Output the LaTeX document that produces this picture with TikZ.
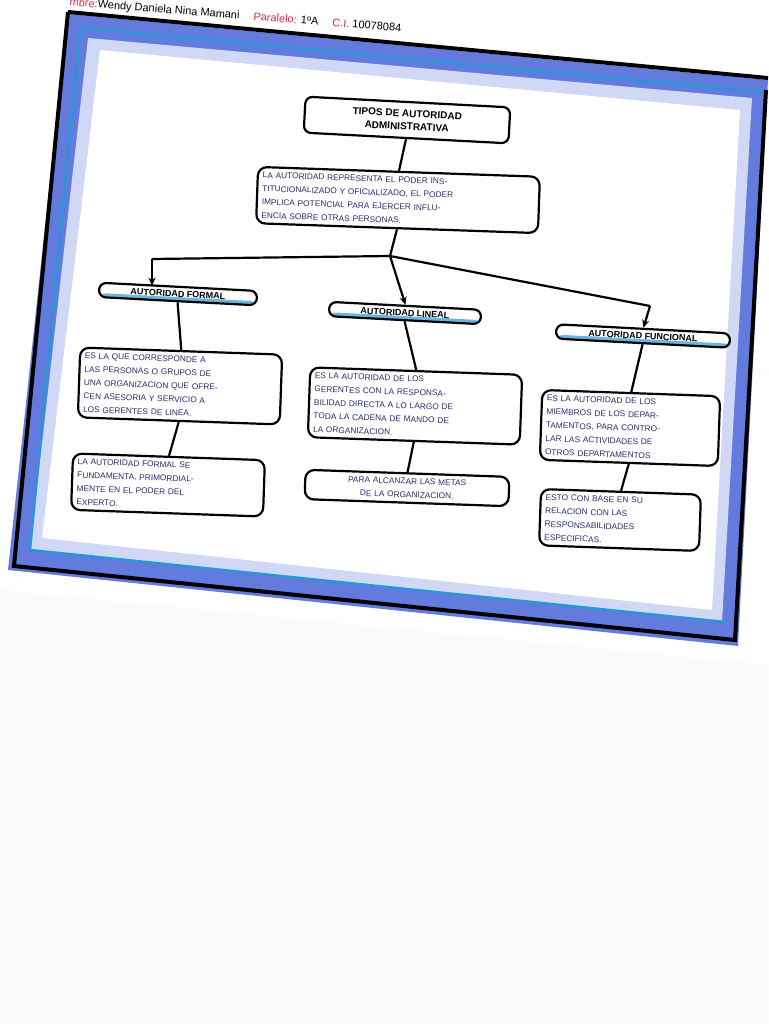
\documentclass[tikz,border=0pt]{standalone}
\usepackage{fontspec}
\setmainfont{Liberation Sans}
\usetikzlibrary{arrows.meta}
\definecolor{frameblue}{RGB}{70,100,215}
\definecolor{cyanl}{RGB}{40,150,215}
\definecolor{ink}{RGB}{40,45,110}
\definecolor{redi}{RGB}{225,40,70}
\tikzset{
  box/.style={draw=black,line width=2.2pt,rounded corners=9pt,fill=white,align=left,
    font=\fontsize{8.3}{13.5}\selectfont,text=ink,inner sep=5pt,rotate=-2},
  head/.style={draw=black,line width=2.2pt,rounded corners=7pt,fill=white,
    font=\bfseries\fontsize{9}{11}\selectfont,text=black,inner sep=4pt,rotate=-3,
    path picture={\fill[cyanl!70] (path picture bounding box.south west) rectangle ([yshift=4pt]path picture bounding box.south east);}},
  link/.style={line width=2.2pt,draw=black},
  arr/.style={link,-{Stealth[length=8pt,width=7pt]}}
}
\begin{document}
\begin{tikzpicture}[x=1pt,y=-1pt]
\useasboundingbox (0,0) rectangle (768,1024);
\fill[white] (0,0) rectangle (768,1024);
\fill[gray!4] (0,590) -- (768,665) -- (768,1024) -- (0,1024) -- cycle;
% frame
\fill[frameblue!85] (68,14) -- (768,80) -- (738,646) -- (8,570) -- cycle;
\fill[frameblue!25] (88,38) -- (752,98) -- (722,622) -- (30,550) -- cycle;
\fill[white] (100,50) -- (740,110) -- (712,610) -- (42,538) -- cycle;
\draw[line width=4pt] (68,12) -- (768,78);
\draw[line width=4pt] (68,12) -- (14,566) -- (735,640) -- (766,90);
\draw[cyanl,line width=2.5pt] (82,28) -- (762,92);
\draw[cyanl,line width=2.5pt] (80,30) -- (30,550) -- (725,622);
% header text
\node[rotate=-4.5,anchor=south west,inner sep=1pt,font=\fontsize{11}{12}\selectfont] (hdr) at (68,9)
 {\textcolor{redi}{mbre:}Wendy Daniela Nina Mamani \quad \textcolor{redi}{Paralelo:} 1ºA \quad \textcolor{redi}{C.I.} 10078084};
% nodes
\node[head,fill=white,path picture={},font=\bfseries\fontsize{10}{13}\selectfont,align=center,minimum width=205pt,minimum height=36pt] (title) at (407,120)
 {TIPOS DE AUTORIDAD\\ADMINISTRATIVA};
\node[box,text width=272pt] (def) at (398,200)
 {LA AUTORIDAD REPRESENTA EL PODER INS-\\TITUCIONALIZADO Y OFICIALIZADO, EL PODER\\IMPLICA POTENCIAL PARA EJERCER INFLU-\\ENCIA SOBRE OTRAS PERSONAS.};
\node[head,minimum width=158pt] (hf) at (178,294) {AUTORIDAD FORMAL};
\node[head,minimum width=152pt] (hl) at (405,313) {AUTORIDAD LINEAL};
\node[head,minimum width=174pt] (hn) at (643,336) {AUTORIDAD FUNCIONAL};
\node[box,text width=192pt] (f1) at (180,386)
 {ES LA QUE CORRESPONDE A\\LAS PERSONAS O GRUPOS DE\\UNA ORGANIZACION QUE OFRE-\\CEN ASESORIA Y SERVICIO A\\LOS GERENTES DE LINEA.};
\node[box,text width=202pt] (l1) at (415,406)
 {ES LA AUTORIDAD DE LOS\\GERENTES CON LA RESPONSA-\\BILIDAD DIRECTA A LO LARGO DE\\TODA LA CADENA DE MANDO DE\\LA ORGANIZACION.};
\node[box,text width=168pt] (n1) at (630,428)
 {ES LA AUTORIDAD DE LOS\\MIEMBROS DE LOS DEPAR-\\TAMENTOS, PARA CONTRO-\\LAR LAS ACTIVIDADES DE\\OTROS DEPARTAMENTOS};
\node[box,text width=182pt] (f2) at (168,485)
 {LA AUTORIDAD FORMAL SE\\FUNDAMENTA, PRIMORDIAL-\\MENTE EN EL PODER DEL\\EXPERTO.};
\node[box,text width=194pt,align=center] (l2) at (407,488)
 {PARA ALCANZAR LAS METAS\\DE LA ORGANIZACION.};
\node[box,text width=150pt] (n2) at (620,520)
 {ESTO CON BASE EN SU\\RELACION CON LAS\\RESPONSABILIDADES\\ESPECIFICAS.};
% connectors
\draw[link] (title.south) -- (def.north);
\coordinate (br) at (390,256);
\coordinate (bl) at (152,259);
\coordinate (bn) at (650,306);
\draw[link] (def.south) -- (br);
\draw[link] (bl) -- (br) -- (bn);
\draw[arr] (bl) -- (hf.north -| bl);
\draw[arr] (br) -- (hl.north);
\draw[arr] (bn) -- (hn.north);
\draw[link] (hf.south) -- (f1.north);
\draw[link] (hl.south) -- (l1.north);
\draw[link] (hn.south) -- (n1.north);
\draw[link] (f1.south) -- (f2.north);
\draw[link] (l1.south) -- (l2.north);
\draw[link] (n1.south) -- (n2.north);
\end{tikzpicture}
\end{document}
